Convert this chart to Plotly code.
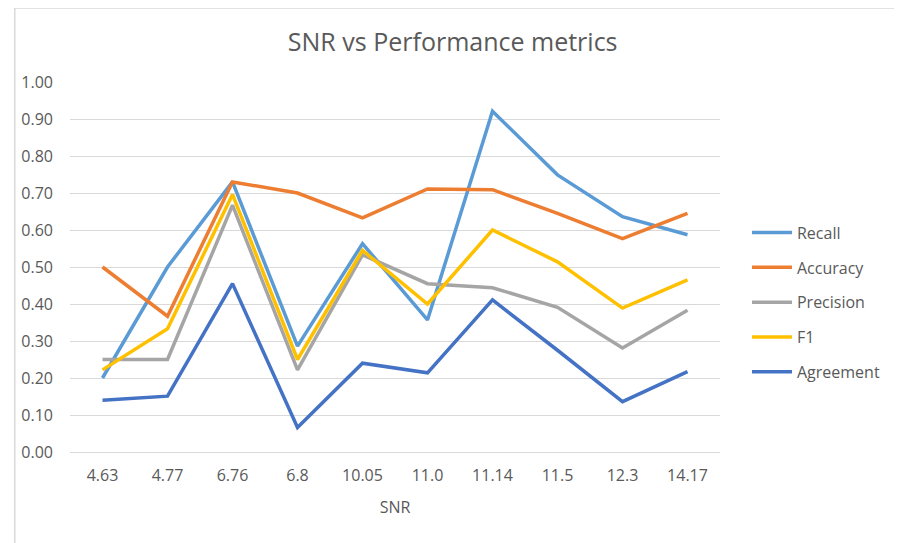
import plotly.graph_objects as go

# SNR categories shown on the x axis
snr_labels = ["4.63", "4.77", "6.76", "6.8", "10.05", "11.0", "11.14", "11.5", "12.3", "14.17"]

recall = [0.20, 0.50, 0.73, 0.286, 0.563, 0.357, 0.921, 0.749, 0.636, 0.587]
accuracy = [0.50, 0.367, 0.73, 0.70, 0.633, 0.711, 0.709, 0.645, 0.577, 0.645]
precision = [0.25, 0.25, 0.667, 0.222, 0.533, 0.455, 0.444, 0.391, 0.281, 0.383]
f1 = [0.222, 0.333, 0.696, 0.25, 0.545, 0.40, 0.60, 0.514, 0.389, 0.465]
agreement = [0.14, 0.151, 0.455, 0.066, 0.24, 0.214, 0.411, 0.275, 0.136, 0.217]

SERIES = [
    ("Recall", recall, "#5B9BD5"),
    ("Accuracy", accuracy, "#ED7D31"),
    ("Precision", precision, "#A5A5A5"),
    ("F1", f1, "#FFC000"),
    ("Agreement", agreement, "#4472C4"),
]

FONT = "Open Sans"
TEXT = "#595959"

fig = go.Figure()
for name, vals, color in SERIES:
    fig.add_trace(go.Scatter(
        x=snr_labels, y=vals, name=name, mode="lines",
        line=dict(color=color, width=3.5),
        legendgroup=name,
    ))

# page body adds 8px, so margins are trimmed to land the plot where the reference has it
fig.update_layout(
    width=902, height=543,
    paper_bgcolor="white", plot_bgcolor="white",
    margin=dict(l=62, r=190, t=74, b=99),
    title=dict(text="SNR vs Performance metrics", x=0.493, xref="container",
               xanchor="center", y=0.937, yanchor="middle",
               font=dict(family=FONT, size=25, color=TEXT)),
    font=dict(family=FONT, size=16, color=TEXT),
    xaxis=dict(
        type="category", range=[-0.5, 9.5],
        showgrid=False, zeroline=False, showline=False,
        ticks="", ticklabelstandoff=12, tickfont=dict(size=16, color=TEXT),
        title=dict(text="SNR", font=dict(size=16, color=TEXT), standoff=16),
    ),
    yaxis=dict(
        range=[0, 1.0], dtick=0.1, tickformat=".2f",
        showgrid=True, gridcolor="#D9D9D9", gridwidth=1,
        zeroline=True, zerolinecolor="#D9D9D9", zerolinewidth=1,
        showline=False, ticks="", ticklabelstandoff=16,
        tickfont=dict(size=16, color=TEXT),
    ),
    legend=dict(
        x=1.0415, y=0.405, xanchor="left", yanchor="middle",
        font=dict(size=16, color=TEXT), tracegroupgap=11,
        itemwidth=40, bgcolor="rgba(0,0,0,0)",
    ),
    showlegend=True,
)

# light chart-area border, cropped at the right and bottom as in the screenshot
fig.add_shape(type="rect", xref="paper", yref="paper",
              x0=-0.085, x1=1.6, y0=-0.5, y1=1.2,
              line=dict(color="#D9D9D9", width=1.5), layer="below")

fig.write_html("out.html")
